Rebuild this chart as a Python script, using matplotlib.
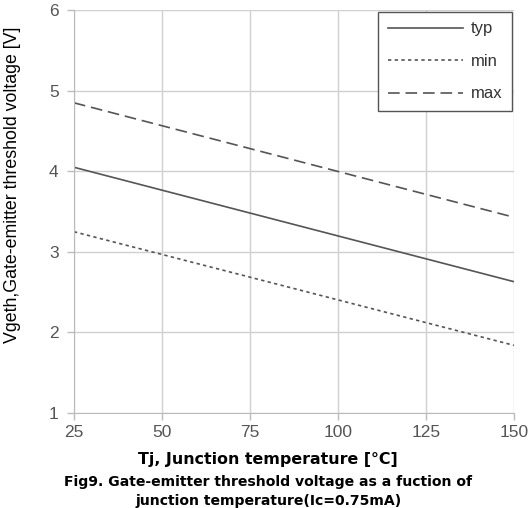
import matplotlib.pyplot as plt
import numpy as np

# Gate-emitter threshold voltage vs junction temperature
tj = np.array([25, 150])
vge_typ = np.array([4.05, 2.63])
vge_min = np.array([3.25, 1.84])
vge_max = np.array([4.85, 3.43])

x_ticks = [25, 50, 75, 100, 125, 150]
y_ticks = [1, 2, 3, 4, 5, 6]

plt.rcParams['font.family'] = ['Liberation Sans', 'DejaVu Sans']

fig = plt.figure(figsize=(5.32, 5.08), dpi=100)
ax = fig.add_axes([0.139, 0.187, 0.827, 0.793])

line_col = '#555555'
ax.plot(tj, vge_typ, color=line_col, lw=1.2, ls='-', label='typ')
ax.plot(tj, vge_min, color=line_col, lw=1.2, ls=(0, (2, 2)), label='min')
ax.plot(tj, vge_max, color=line_col, lw=1.2, ls=(0, (7, 3.5)), label='max')

ax.set_xlim(25, 150)
ax.set_ylim(1, 6)
ax.set_xticks(x_ticks)
ax.set_yticks(y_ticks)
ax.grid(True, color='#d0d0d0', lw=1.0)
for side in ['top', 'right']:
    ax.spines[side].set_visible(False)
for side in ['left', 'bottom']:
    ax.spines[side].set_color('#bbbbbb')
ax.tick_params(axis='both', colors='#bbbbbb', length=5, width=1.0,
               labelcolor='#555555', labelsize=12.5)
ax.tick_params(axis='y', pad=6)

ax.set_ylabel('Vgeth,Gate-emitter threshold voltage [V]', fontsize=12.8,
              color='black')
ax.yaxis.set_label_coords(-0.12, 0.566)

# axis title and figure caption, centred slightly left of the axes
fig.text(0.504, 0.096, 'Tj, Junction temperature [°C]', ha='center',
         va='center', fontsize=11.4, fontweight='bold', family=['DejaVu Sans'])
fig.text(0.504, 0.051, 'Fig9. Gate-emitter threshold voltage as a fuction of',
         ha='center', va='center', fontsize=10.1, fontweight='bold',
         family=['DejaVu Sans'])
fig.text(0.504, 0.014, 'junction temperature(Ic=0.75mA)',
         ha='center', va='center', fontsize=10.1, fontweight='bold',
         family=['DejaVu Sans'])

leg = ax.legend(loc='upper right', bbox_to_anchor=(0.995, 0.995),
                borderaxespad=0, fancybox=False, framealpha=1,
                edgecolor='#555555', fontsize=12, handlelength=4.55,
                handletextpad=0.45, labelspacing=1.05, borderpad=0.55)
leg.get_frame().set_linewidth(1.0)
for t in leg.get_texts():
    t.set_color('#333333')

fig.savefig('out.png', dpi=100)
